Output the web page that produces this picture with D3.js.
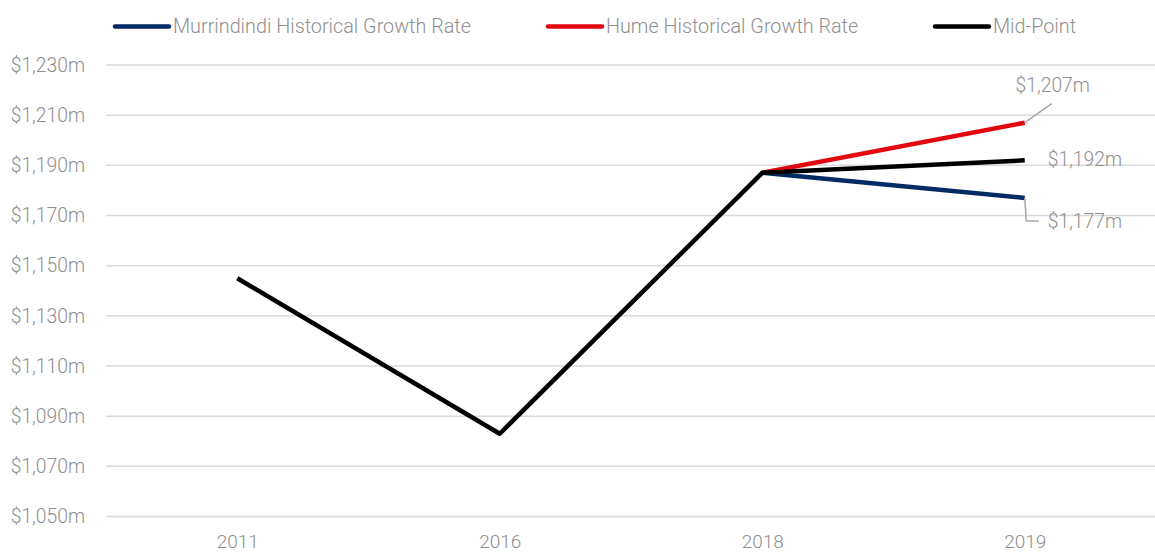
<!DOCTYPE html>
<html>
<head>
<meta charset="utf-8">
<script src="https://cdn.jsdelivr.net/npm/d3@7"></script>
<style>
  html, body { margin: 0; padding: 0; background: #fff; }
  svg { display: block; font-family: Roboto, "Open Sans", sans-serif; font-weight: 300; }
</style>
</head>
<body>
<svg id="chart" width="1155" height="552"></svg>
<script>
// Years on the category axis
const years = ["2011", "2016", "2018", "2019"];
// Value-axis ticks ($m)
const yTicks = [1050, 1070, 1090, 1110, 1130, 1150, 1170, 1190, 1210, 1230];
// Series values ($m); null where a series has no value
const midPoint = [1145, 1083, 1187, 1192];
const hume = [null, null, 1187, 1207];
const murrindindi = [null, null, 1187, 1177];

const seriesNames = ["Murrindindi Historical Growth Rate", "Hume Historical Growth Rate", "Mid-Point"];
const seriesColors = ["#002b62", "#e3070f", "#000000"];

const svg = d3.select("#chart");
const textColor = "#8f8f8f";

const x = d3.scalePoint().domain(years).range([106, 1156]).padding(0.5);
const y = d3.scaleLinear().domain([1050, 1230]).range([516.5, 65]);
const fmt = v => "$" + d3.format(",")(v) + "m";

// Gridlines
svg.append("g")
  .selectAll("line")
  .data(yTicks)
  .join("line")
  .attr("x1", 106).attr("x2", 1155)
  .attr("y1", d => y(d)).attr("y2", d => y(d))
  .attr("stroke", "#d9d9d9").attr("stroke-width", 1.5);

// Value axis
const yAxis = svg.append("g")
  .attr("transform", "translate(106,0)")
  .call(d3.axisLeft(y).tickValues(yTicks).tickFormat(fmt).tickSize(0).tickPadding(21));
yAxis.select(".domain").remove();
yAxis.selectAll("text")
  .attr("fill", textColor)
  .style("font-size", "19.3px")
  .style("font-family", "Roboto, sans-serif")
  .style("font-weight", 300);

// Category axis
const xAxis = svg.append("g")
  .attr("transform", "translate(0,516.5)")
  .call(d3.axisBottom(x).tickSize(0).tickPadding(18));
xAxis.select(".domain").remove();
xAxis.selectAll("text")
  .attr("fill", textColor)
  .style("font-size", "19px")
  .style("font-family", "Roboto, sans-serif")
  .style("font-weight", 300);

// Lines
const line = d3.line()
  .defined(d => d.v != null)
  .x(d => x(d.year))
  .y(d => y(d.v));

const toPts = arr => years.map((yr, i) => ({ year: yr, v: arr[i] }));
const seriesData = [murrindindi, hume, midPoint];

svg.append("g")
  .selectAll("path")
  .data(seriesData)
  .join("path")
  .attr("d", d => line(toPts(d)))
  .attr("fill", "none")
  .attr("stroke", (d, i) => seriesColors[i])
  .attr("stroke-width", 4.5)
  .attr("stroke-linejoin", "round");

// Legend
const legendX = [115, 548, 935];
const legend = svg.append("g")
  .selectAll("g")
  .data(seriesNames)
  .join("g")
  .attr("transform", (d, i) => `translate(${legendX[i]},26.5)`);
legend.append("line")
  .attr("x1", 0).attr("x2", 54)
  .attr("stroke", (d, i) => seriesColors[i])
  .attr("stroke-width", 4.5)
  .attr("stroke-linecap", "round");
legend.append("text")
  .attr("x", 58)
  .attr("dy", "0.35em")
  .attr("fill", textColor)
  .style("font-size", "19.8px")
  .text(d => d);

// End-of-line value labels with leaders
const last = years.length - 1;
const xEnd = x(years[last]);
const labels = svg.append("g").attr("fill", textColor).style("font-size", "19.3px");

// Hume
const yH = y(hume[last]);
svg.append("path")
  .attr("d", `M${xEnd},${yH} L${xEnd + 27},${yH - 19}`)
  .attr("stroke", "#a6a6a6").attr("stroke-width", 1.5).attr("fill", "none");
labels.append("text")
  .attr("x", xEnd + 28).attr("y", yH - 37)
  .attr("dy", "0.35em").attr("text-anchor", "middle")
  .text(fmt(hume[last]));

// Mid-Point
labels.append("text")
  .attr("x", xEnd + 23).attr("y", y(midPoint[last]) - 1)
  .attr("dy", "0.35em")
  .text(fmt(midPoint[last]));

// Murrindindi
const yM = y(murrindindi[last]);
svg.append("path")
  .attr("d", `M${xEnd},${yM} L${xEnd + 1.5},${yM + 23} L${xEnd + 14},${yM + 23}`)
  .attr("stroke", "#a6a6a6").attr("stroke-width", 1.5).attr("fill", "none");
labels.append("text")
  .attr("x", xEnd + 23).attr("y", yM + 23)
  .attr("dy", "0.35em")
  .text(fmt(murrindindi[last]));
</script>
</body>
</html>
